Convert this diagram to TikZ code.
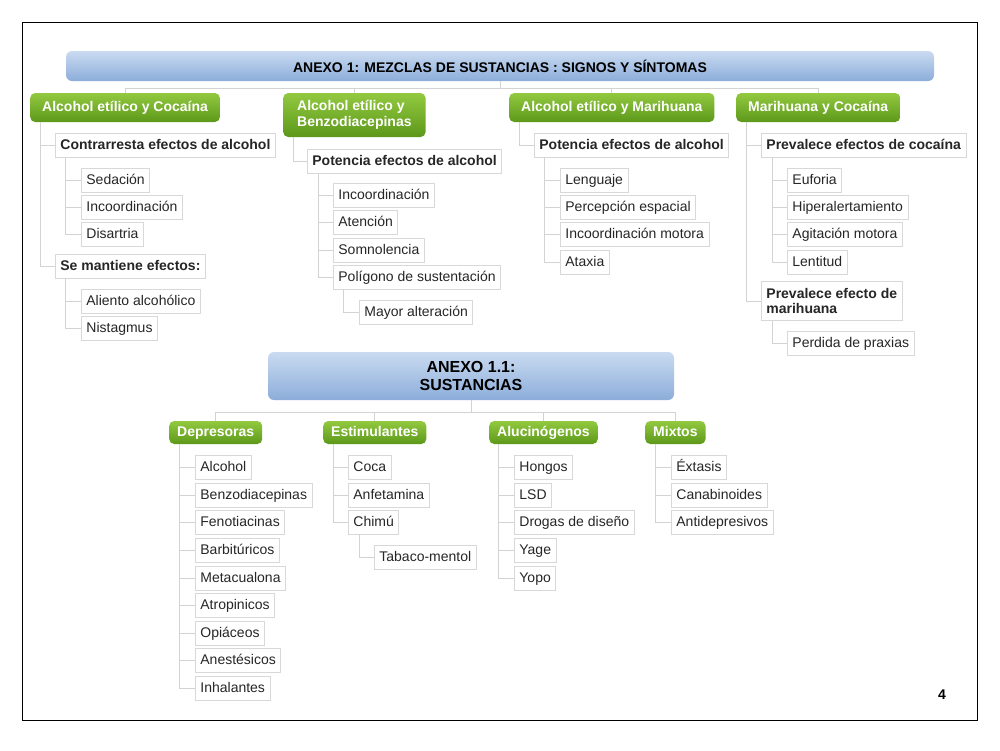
\documentclass[tikz,border=0pt]{standalone}
\usepackage{fontspec}
\setmainfont{Liberation Sans}
\definecolor{linegray}{HTML}{D3D3D3}
\definecolor{boxgray}{HTML}{D8D8D8}
\definecolor{txt}{HTML}{262626}
\definecolor{gtop}{HTML}{93C940}
\definecolor{gbot}{HTML}{5C981A}
\definecolor{btop}{HTML}{CADBF1}
\definecolor{bbot}{HTML}{8CADDA}
\begin{document}
\begin{tikzpicture}[x=1pt,y=-1pt,
  conn/.style={draw=linegray, line width=1pt},
  fix/.style={text height=11pt, text depth=3pt},
  boxbase/.style={draw=boxgray, line width=0.8pt, fill=white, anchor=west, minimum height=24pt,
    inner xsep=5pt, inner ysep=0pt, text=txt, font=\fontsize{14}{15.5}\selectfont},
  item/.style={boxbase, fix},
  bitem/.style={item, font=\fontsize{14}{15.5}\selectfont\bfseries},
  bitemml/.style={boxbase, font=\fontsize{14}{15.5}\selectfont\bfseries, align=left},
  grnbase/.style={rounded corners=5pt, top color=gtop, bottom color=gbot, draw=none, anchor=west,
    minimum height=29pt, inner xsep=12pt, inner ysep=0pt, text=white,
    font=\fontsize{14}{15.5}\selectfont\bfseries},
  grn/.style={grnbase, fix},
  grnml/.style={grnbase, align=left},
  grn2/.style={grn, minimum height=23pt, inner xsep=8pt},
  ttl/.style={rounded corners=6pt, top color=btop, bottom color=bbot, draw=none, text=black,
    align=center, inner sep=0pt}
]
\useasboundingbox (0,0) rectangle (1000,750);
\fill[white] (0,0) rectangle (1000,750);
\draw[line width=0.8pt] (22,22) rectangle (977,720);

% ---------- Title 1 ----------
\node[ttl, minimum width=868pt, minimum height=30pt, font=\fontsize{14}{16}\selectfont\bfseries]
  (t1) at (500,66) {ANEXO 1: MEZCLAS DE SUSTANCIAS : SIGNOS Y SÍNTOMAS};

\node[grn] (g1) at (30,107.5) {Alcohol etílico y Cocaína};
\node[grnml, minimum height=44pt, inner xsep=14pt] (g2) at (283,115) {Alcohol etílico y\\Benzodiacepinas};
\node[grn] (g3) at (509,107.5) {Alcohol etílico y Marihuana};
\node[grn] (g4) at (736,107.5) {Marihuana y Cocaína};

\draw[conn] (t1.south) -- ([yshift=-7pt]t1.south) coordinate (t1j);
\draw[conn] (g1.north) |- (t1j) -| (g4.north);
\draw[conn] (g2.north) |- (t1j);
\draw[conn] (g3.north) |- (t1j);

% group 1
\node[bitem] (a1) at (55,145) {Contrarresta efectos de alcohol};
\node[bitem] (a2) at (55,266) {Se mantiene efectos:};
\draw[conn] ([xshift=10pt]g1.south west) |- (a1.west);
\draw[conn] ([xshift=10pt]g1.south west) |- (a2.west);
\foreach \i/\t/\y in {1/Sedación/180, 2/Incoordinación/207, 3/Disartria/234}{
  \node[item] (a1s\i) at (81,\y) {\t};
  \draw[conn] ([xshift=10pt]a1.south west) |- (a1s\i.west);
}
\foreach \i/\t/\y in {1/Aliento alcohólico/301, 2/Nistagmus/328}{
  \node[item] (a2s\i) at (81,\y) {\t};
  \draw[conn] ([xshift=10pt]a2.south west) |- (a2s\i.west);
}

% group 2
\node[bitem] (b1) at (307,161) {Potencia efectos de alcohol};
\draw[conn] ([xshift=10pt]g2.south west) |- (b1.west);
\foreach \i/\t/\y in {1/Incoordinación/195, 2/Atención/222, 3/Somnolencia/250, 4/Polígono de sustentación/277}{
  \node[item] (b1s\i) at (333,\y) {\t};
  \draw[conn] ([xshift=11pt]b1.south west) |- (b1s\i.west);
}
\node[item] (b1s4a) at (359,312) {Mayor alteración};
\draw[conn] ([xshift=10pt]b1s4.south west) |- (b1s4a.west);

% group 3
\node[bitem] (c1) at (534,145) {Potencia efectos de alcohol};
\draw[conn] ([xshift=10pt]g3.south west) |- (c1.west);
\foreach \i/\t/\y in {1/Lenguaje/180, 2/Percepción espacial/207, 3/Incoordinación motora/234, 4/Ataxia/262}{
  \node[item] (c1s\i) at (560,\y) {\t};
  \draw[conn] ([xshift=10pt]c1.south west) |- (c1s\i.west);
}

% group 4
\node[bitem] (d1) at (761,145) {Prevalece efectos de cocaína};
\node[bitemml, minimum height=39pt] (d2) at (761,301) {Prevalece efecto de\\marihuana};
\draw[conn] ([xshift=10pt]g4.south west) |- (d1.west);
\draw[conn] ([xshift=10pt]g4.south west) |- (d2.west);
\foreach \i/\t/\y in {1/Euforia/180, 2/Hiperalertamiento/207, 3/Agitación motora/234, 4/Lentitud/262}{
  \node[item] (d1s\i) at (787,\y) {\t};
  \draw[conn] ([xshift=11pt]d1.south west) |- (d1s\i.west);
}
\node[item] (d2s1) at (787,343) {Perdida de praxias};
\draw[conn] ([xshift=11pt]d2.south west) |- (d2s1.west);

% ---------- Title 2 ----------
\node[ttl, minimum width=406pt, minimum height=48pt, font=\fontsize{16}{17.5}\selectfont\bfseries]
  (t2) at (471,376) {ANEXO 1.1:\\SUSTANCIAS};

\node[grn2] (e) at (169,432.5) {Depresoras};
\node[grn2] (f) at (323,432.5) {Estimulantes};
\node[grn2] (g) at (489,432.5) {Alucinógenos};
\node[grn2] (h) at (645,432.5) {Mixtos};

\draw[conn] (t2.south) -- ([yshift=-12pt]t2.south) coordinate (t2j);
\draw[conn] (e.north) |- (t2j) -| (h.north);
\draw[conn] (f.north) |- (t2j);
\draw[conn] (g.north) |- (t2j);

\foreach \i/\t/\y in {1/Alcohol/467, 2/Benzodiacepinas/495, 3/Fenotiacinas/522.5, 4/Barbitúricos/550,
  5/Metacualona/578, 6/Atropinicos/605, 7/Opiáceos/633, 8/Anestésicos/660, 9/Inhalantes/688}{
  \node[item] (e\i) at (195,\y) {\t};
  \draw[conn] ([xshift=10pt]e.south west) |- (e\i.west);
}
\foreach \i/\t/\y in {1/Coca/467, 2/Anfetamina/495, 3/Chimú/522.5}{
  \node[item] (f\i) at (348,\y) {\t};
  \draw[conn] ([xshift=10pt]f.south west) |- (f\i.west);
}
\node[item] (f3a) at (374,557) {Tabaco-mentol};
\draw[conn] ([xshift=11pt]f3.south west) |- (f3a.west);
\foreach \i/\t/\y in {1/Hongos/467, 2/LSD/495, 3/Drogas de diseño/522.5, 4/Yage/550, 5/Yopo/578}{
  \node[item] (g\i) at (514,\y) {\t};
  \draw[conn] ([xshift=9pt]g.south west) |- (g\i.west);
}
\foreach \i/\t/\y in {1/Éxtasis/467, 2/Canabinoides/495, 3/Antidepresivos/522.5}{
  \node[item] (h\i) at (671,\y) {\t};
  \draw[conn] ([xshift=10pt]h.south west) |- (h\i.west);
}

\node[font=\fontsize{14}{16}\selectfont\bfseries, inner sep=0pt] (pg) at (942,695) {4};
\end{tikzpicture}
\end{document}
